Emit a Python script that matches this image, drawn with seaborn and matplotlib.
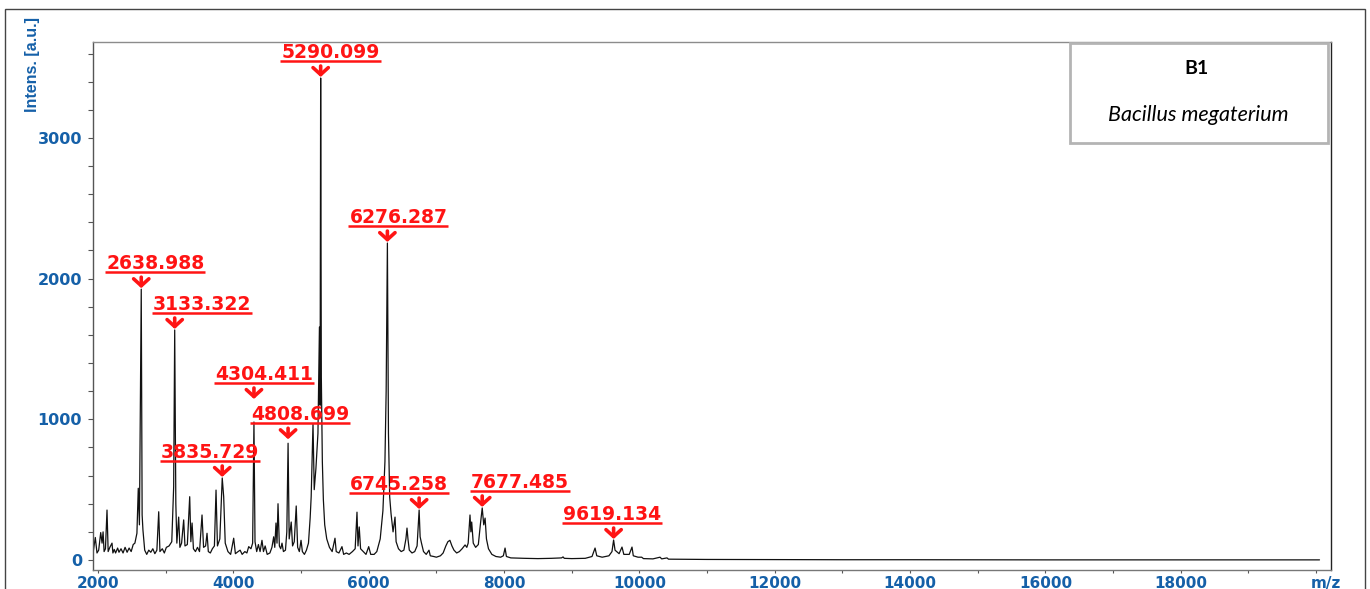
import numpy as np
import pandas as pd
import matplotlib
matplotlib.use("Agg")
import matplotlib.pyplot as plt
import matplotlib.transforms as mtransforms
from matplotlib.lines import Line2D
from matplotlib.patches import Rectangle
from matplotlib.ticker import MultipleLocator, FixedLocator
from matplotlib import font_manager
import seaborn as sns

# ---- spectrum trace (m/z, intensity in a.u.), without the annotated apexes ----
trace_mz = [
    1930, 1960, 1985, 2010, 2040, 2060, 2075, 2090, 2110, 2133, 2150, 2175, 2207,
    2220, 2240, 2260, 2290, 2310, 2340, 2370, 2400, 2430, 2460, 2490, 2520, 2545,
    2575, 2595, 2612, 2652, 2664, 2690, 2720, 2750, 2780, 2810, 2840, 2870, 2897,
    2915, 2950, 2980, 3010, 3050, 3090, 3118, 3150, 3165, 3192, 3210, 3235, 3266,
    3285, 3320, 3355, 3372, 3390, 3410, 3440, 3470, 3500, 3537, 3560, 3590, 3611,
    3630, 3660, 3690, 3720, 3744, 3765, 3800, 3857, 3880, 3920, 3960, 4005, 4030,
    4070, 4100, 4130, 4170, 4200, 4227, 4260, 4285, 4320, 4345, 4370, 4395, 4423,
    4445, 4470, 4500, 4540, 4570, 4596, 4612, 4630, 4645, 4660, 4680, 4700, 4719,
    4740, 4770, 4790, 4825, 4855, 4875, 4900, 4929, 4950, 4975, 5000, 5020, 5050,
    5080, 5110, 5135, 5150, 5177, 5195, 5220, 5250, 5272, 5282, 5300, 5315, 5330,
    5350, 5380, 5420, 5460, 5502, 5520, 5560, 5605, 5630, 5670, 5710, 5760, 5800,
    5827, 5842, 5860, 5880, 5920, 5960, 6000, 6030, 6080, 6120, 6170, 6210, 6240,
    6258, 6292, 6310, 6330, 6360, 6389, 6405, 6440, 6480, 6520, 6550, 6566, 6580,
    6600, 6640, 6680, 6715, 6760, 6780, 6810, 6850, 6891, 6910, 6960, 7000, 7060,
    7100, 7140, 7170, 7200, 7230, 7260, 7300, 7340, 7380, 7424, 7450, 7470, 7497,
    7510, 7522, 7545, 7580, 7620, 7652, 7700, 7720, 7740, 7770, 7820, 7880, 7950,
    7990, 8015, 8035, 8100, 8300, 8500, 8700, 8850, 8872, 8890, 9000, 9200, 9300,
    9345, 9370, 9450, 9550, 9595, 9640, 9700, 9743, 9770, 9850, 9891, 9910, 9980,
    10034, 10060, 10200, 10305, 10330, 10408, 10430, 11000, 12000, 13000, 14000,
    16000, 18000, 20050,
]
trace_int = [
    60, 160, 50, 70, 195, 120, 200, 60, 80, 355, 60, 90, 120,
    50, 75, 50, 85, 55, 80, 50, 90, 55, 85, 60, 110, 120,
    190, 510, 250, 320, 213, 70, 40, 70, 55, 80, 45, 70, 343,
    60, 80, 50, 90, 100, 130, 520, 400, 120, 305, 90, 120, 285,
    100, 110, 450, 130, 263, 80, 60, 90, 60, 320, 90, 100, 190,
    60, 50, 80, 100, 497, 100, 150, 450, 120, 60, 40, 155, 45,
    60, 70, 40, 60, 50, 95, 80, 120, 130, 60, 110, 60, 140,
    60, 100, 40, 50, 90, 165, 90, 263, 120, 400, 100, 80, 120,
    60, 70, 200, 150, 270, 100, 130, 384, 90, 60, 140, 60, 40,
    70, 120, 300, 450, 970, 500, 650, 900, 1656, 1100, 1300, 700, 430,
    250, 150, 90, 60, 155, 60, 50, 95, 40, 50, 40, 60, 80,
    340, 100, 235, 80, 60, 40, 95, 40, 40, 60, 150, 350, 700,
    1200, 900, 450, 330, 200, 305, 130, 80, 60, 70, 150, 227, 150,
    70, 50, 60, 100, 165, 120, 60, 40, 70, 30, 25, 20, 30,
    50, 100, 130, 140, 100, 70, 50, 60, 80, 107, 90, 120, 320,
    200, 270, 120, 90, 110, 260, 250, 298, 150, 80, 40, 25, 20,
    30, 85, 25, 15, 12, 10, 12, 15, 22, 12, 10, 12, 25,
    85, 30, 20, 30, 60, 70, 45, 92, 40, 40, 92, 30, 20,
    20, 10, 8, 20, 8, 15, 6, 4, 3, 2, 2,
    1, 1, 1,
]

# ---- annotated peaks ----
peak_labels = ["2638.988", "3133.322", "3835.729", "4304.411", "4808.699",
               "5290.099", "6276.287", "6745.258", "7677.485", "9619.134"]
peak_mz = [2638.988, 3133.322, 3835.729, 4304.411, 4808.699,
           5290.099, 6276.287, 6745.258, 7677.485, 9619.134]
peak_int = [1925, 1635, 583, 981, 830, 3426, 2253, 355, 370, 142]

x_ticks = [2000, 4000, 6000, 8000, 10000, 12000, 14000, 16000, 18000]
y_ticks = [0, 1000, 2000, 3000]
sample_id = "B1"
organism = "Bacillus megaterium"

# label placement (pixels): horizontal shift of the label and extra lift of the arrow
label_dx = [14, 27, -12, 10, 12, 10, 11, -20, 38, -2]
arrow_lift = [0, 0, 0, 22, 3, 0, 0, 0, 0, 0]

BLUE = "#1560a8"
RED = "#ff1414"

sns.set_theme(style="white")
plt.rcParams["font.family"] = ["DejaVu Sans"]

W, H, DPI = 1370, 589, 100
fig = plt.figure(figsize=(W / DPI, H / DPI), dpi=DPI)
fig.patch.set_facecolor("white")


def fx(px):
    return px / W


def fy(py):
    return 1 - py / H


ax = fig.add_axes([fx(93), fy(570), fx(1331) - fx(93), fy(42) - fy(570)])
ax.set_facecolor("white")

spec = pd.DataFrame({
    "mz": list(trace_mz) + list(peak_mz),
    "intensity": list(trace_int) + list(peak_int),
}).sort_values("mz")

sns.lineplot(data=spec, x="mz", y="intensity", ax=ax, color="#111111",
             linewidth=0.9, estimator=None, sort=True)

ax.set_xlim(1926, 20220)
ax.set_ylim(-71, 3682)
ax.set_xlabel("")
ax.set_ylabel("")

ax.xaxis.set_major_locator(FixedLocator(x_ticks))
ax.xaxis.set_minor_locator(MultipleLocator(1000))
ax.yaxis.set_major_locator(FixedLocator(y_ticks))
ax.yaxis.set_minor_locator(MultipleLocator(200))
ax.set_xticklabels([str(v) for v in x_ticks])
ax.set_yticklabels([str(v) for v in y_ticks])

ax.tick_params(axis="y", which="both", direction="out", length=3.6, width=0.8,
               color="#555555", left=True)
ax.tick_params(axis="y", which="major", pad=4.3, labelsize=11.5,
               labelcolor=BLUE)
ax.tick_params(axis="x", which="both", direction="out", length=2.2, width=0.8,
               color="#555555", bottom=True)
ax.tick_params(axis="x", which="major", pad=2.2, labelsize=11,
               labelcolor=BLUE)
for lab in ax.get_xticklabels():
    lab.set_fontweight("bold")
    lab.set_va("top")
for lab in ax.get_yticklabels():
    lab.set_fontweight("bold")
    lab.set_va("center_baseline")

for side, col in {"top": "#8c8c8c", "left": "#555555",
                  "bottom": "#777777", "right": "#222222"}.items():
    ax.spines[side].set_visible(True)
    ax.spines[side].set_color(col)
    ax.spines[side].set_linewidth(1.0)

# outer frame
fig.add_artist(Rectangle((fx(5), fy(600)), fx(1365) - fx(5), fy(9) - fy(600),
                         transform=fig.transFigure, fill=False,
                         edgecolor="#444444", linewidth=1.0))

# axis titles
avail = {f.name for f in font_manager.fontManager.ttflist}
narrow = "Liberation Sans Narrow" if "Liberation Sans Narrow" in avail else "Liberation Sans"
fig.text(fx(33), fy(64), "Intens. [a.u.]", rotation=90, ha="center", va="center",
         color=BLUE, fontsize=11.5, fontweight="bold", family=narrow)
fig.text(fx(1326), fy(576), "m/z", ha="center", va="top", color=BLUE,
         fontsize=11, fontweight="bold")

# sample box
fig.add_artist(Rectangle((fx(1070), fy(143)), fx(1328) - fx(1070), fy(43) - fy(143),
                         transform=fig.transFigure, facecolor="white",
                         edgecolor="#b4b4b4", linewidth=2.0, zorder=5))
fig.text(fx(1196), fy(68), sample_id, ha="center", va="center", fontsize=14,
         fontweight="bold", family="Lato", color="black", zorder=6)
fig.text(fx(1198), fy(115), organism, ha="center", va="center", fontsize=15.5,
         fontstyle="italic", family="Lato", color="black", zorder=6)

# peak annotations: red label with underline, red arrow to the apex
texts = []
for lab, mz, inten, dx, lift in zip(peak_labels, peak_mz, peak_int, label_dx, arrow_lift):
    tip = mtransforms.offset_copy(ax.transData, fig=fig, x=0, y=lift + 1, units="dots")
    tail = mtransforms.offset_copy(ax.transData, fig=fig, x=0, y=lift + 12, units="dots")
    ax.annotate("", xy=(mz, inten), xycoords=tip, xytext=(mz, inten), textcoords=tail,
                arrowprops=dict(arrowstyle="->, head_length=0.5, head_width=0.55",
                                color=RED, lw=2.6, shrinkA=0, shrinkB=0,
                                mutation_scale=10),
                annotation_clip=False)
    t = ax.annotate(lab, xy=(mz, inten), xytext=(dx, lift + 20),
                    textcoords="offset pixels", ha="center", va="baseline",
                    color=RED, fontsize=13.5, fontweight="bold",
                    annotation_clip=False)
    texts.append((t, mz, inten, dx, lift))

fig.canvas.draw()
renderer = fig.canvas.get_renderer()
for t, mz, inten, dx, lift in texts:
    bb = t.get_window_extent(renderer)
    base = ax.transData.transform((mz, inten))[1] + lift + 20
    y = base - 3
    fig.add_artist(Line2D([bb.x0 - 1, bb.x1 + 1], [y, y],
                          transform=mtransforms.IdentityTransform(),
                          color=RED, linewidth=1.8, solid_capstyle="butt"))

fig.savefig("out.png", dpi=DPI, facecolor="white")
